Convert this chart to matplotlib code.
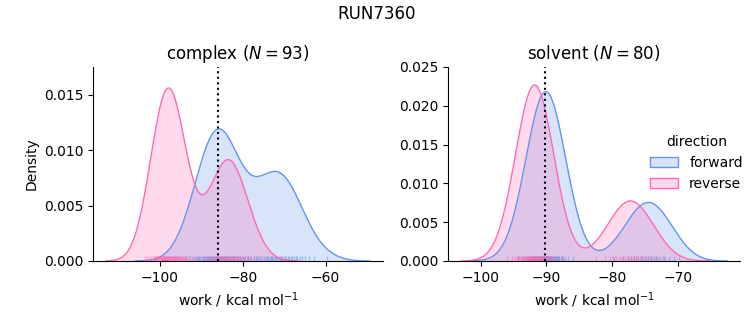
import numpy as np
import matplotlib.pyplot as plt
from matplotlib.colors import to_rgb
from matplotlib.patches import Patch

run_name = "RUN7360"
directions = ["forward", "reverse"]
colors = {"forward": "#6495ed", "reverse": "#ff69b4"}

complex_forward = [
    -95.6, -93.8, -92.9, -92.3, -91.7, -91.1, -90.8, -90.6, -90.2, -89.9,
    -89.5, -89.3, -89.0, -88.8, -88.7, -88.4, -88.1, -88.0, -87.8, -87.5,
    -87.4, -87.2, -86.9, -86.8, -86.5, -86.4, -86.2, -86.0, -85.9, -85.6,
    -85.3, -85.2, -85.0, -84.7, -84.6, -84.3, -84.2, -84.0, -83.7, -83.6,
    -83.3, -83.0, -82.8, -82.6, -82.2, -81.8, -81.5, -81.1, -80.7, -80.1,
    -79.5, -78.7, -76.8,
    -82.3, -80.0, -78.8, -78.1, -77.3, -76.6, -76.2, -75.9, -75.3, -74.8,
    -74.5, -74.1, -73.9, -73.5, -73.1, -72.9, -72.6, -72.2, -71.9, -71.7,
    -71.3, -71.0, -70.7, -70.5, -70.1, -69.7, -69.5, -69.2, -68.8, -68.4,
    -68.1, -67.6, -67.2, -66.9, -66.3, -65.7, -65.0, -64.1, -62.9, -59.7,
]
complex_reverse = [
    -103.6, -103.1, -102.6, -102.1, -101.7, -101.5, -101.2, -101.0, -100.8, -100.6,
    -100.4, -100.2, -100.0, -99.9, -99.7, -99.5, -99.4, -99.3, -99.2, -99.1,
    -98.9, -98.8, -98.7, -98.5, -98.4, -98.3, -98.2, -98.0,
    -97.9, -97.8, -97.7, -97.5, -97.3, -97.2, -97.1, -96.9, -96.8, -96.7,
    -96.6, -96.4, -96.3, -96.1, -96.0, -95.8, -95.6, -95.4, -95.2, -95.0,
    -94.8, -94.5, -94.3, -94.1, -93.9, -93.4, -92.8, -91.8,
    -91.2, -89.6, -88.7, -88.1, -87.6, -87.2, -86.7, -86.4, -86.1, -85.8,
    -85.5, -85.2, -84.9, -84.7, -84.5, -84.2, -84.0, -83.8, -83.5, -83.2,
    -83.0, -82.8, -82.5, -82.2, -82.1, -81.8, -81.5, -81.3, -80.9, -80.6,
    -80.3, -79.8, -79.4, -78.9, -78.3, -77.4, -75.8,
]
solvent_forward = [
    -94.3, -93.5, -93.1, -92.8, -92.6, -92.4, -92.2, -92.1, -91.9, -91.8,
    -91.7, -91.6, -91.4, -91.3, -91.2, -91.1, -91.0, -90.9, -90.9, -90.8,
    -90.7, -90.6, -90.5, -90.5, -90.4, -90.3, -90.2, -90.2, -90.1,
    -90.0, -89.9, -89.9, -89.8, -89.7, -89.6, -89.6, -89.5, -89.4, -89.3,
    -89.2, -89.1, -89.0, -88.9, -88.8, -88.7, -88.6, -88.5, -88.4, -88.2,
    -88.1, -88.0, -87.8, -87.6, -87.4, -87.1, -86.7, -85.9,
    -79.7, -78.4, -77.6, -77.1, -76.7, -76.3, -76.0, -75.6, -75.4, -75.1,
    -74.8, -74.5, -74.2, -74.0, -73.6, -73.4, -73.1, -72.7, -72.3, -71.9,
    -71.4, -70.6, -69.9,
]
solvent_reverse = [
    -96.0, -95.2, -94.8, -94.5, -94.3, -94.1, -93.9, -93.8, -93.6, -93.5,
    -93.4, -93.3, -93.1, -93.0, -92.9, -92.8, -92.7, -92.6, -92.6, -92.5,
    -92.4, -92.3, -92.2, -92.2, -92.1, -92.0, -91.9, -91.9, -91.8,
    -91.7, -91.6, -91.6, -91.5, -91.4, -91.3, -91.3, -91.2, -91.1, -91.0,
    -90.9, -90.8, -90.7, -90.6, -90.5, -90.4, -90.3, -90.2, -90.1, -89.9,
    -89.8, -89.7, -89.5, -89.3, -89.1, -88.8, -88.4, -87.6,
    -82.4, -81.1, -80.3, -79.8, -79.4, -79.0, -78.7, -78.3, -78.1, -77.8,
    -77.5, -77.2, -76.9, -76.7, -76.3, -76.1, -75.8, -75.4, -75.0, -74.6,
    -74.1, -73.3, -72.1,
]

complex_dg = -86.0
solvent_dg = -90.2

phases = {
    "complex": {"forward": complex_forward, "reverse": complex_reverse,
                "dg": complex_dg, "bw_adjust": 1.0, "ytop": 0.0175},
    "solvent": {"forward": solvent_forward, "reverse": solvent_reverse,
                "dg": solvent_dg, "bw_adjust": 0.8, "ytop": 0.025},
}

# all works share one normalisation, like seaborn common_norm
total = sum(len(p[d]) for p in phases.values() for d in directions)


def kde(values, bw_adjust):
    values = np.asarray(values)
    bw = values.std(ddof=1) * len(values) ** -0.2 * bw_adjust
    grid = np.linspace(values.min() - 3 * bw, values.max() + 3 * bw, 200)
    dens = np.exp(-0.5 * ((grid[:, None] - values[None, :]) / bw) ** 2).sum(axis=1)
    dens /= bw * np.sqrt(2 * np.pi) * total
    return grid, dens


fig = plt.figure(figsize=(7.53, 3.25), dpi=100)
ax1 = fig.add_axes([0.1235, 0.197, 0.385, 0.597])
ax2 = fig.add_axes([0.595, 0.197, 0.388, 0.597])

for ax, (phase, p) in zip([ax1, ax2], phases.items()):
    for d in directions:
        x, y = kde(p[d], p["bw_adjust"])
        ax.fill_between(x, y, color=colors[d], alpha=0.25, linewidth=0)
        ax.plot(x, y, color=colors[d], lw=1)
        ax.vlines(p[d], 0, 0.025, transform=ax.get_xaxis_transform(),
                  color=colors[d], lw=1, alpha=0.5)
    ax.axvline(p["dg"], color="k", ls=":", lw=1.5)
    ax.set_ylim(0, p["ytop"])
    ax.set_title(f"{phase} ($N={len(p['forward'])}$)", fontsize=12)
    ax.set_xlabel("work / kcal mol$^{-1}$")
    ax.spines["top"].set_visible(False)
    ax.spines["right"].set_visible(False)

ax1.set_ylabel("Density")
ax1.set_yticks([0, 0.005, 0.010, 0.015])
ax1.set_yticklabels(["0.000", "0.005", "0.010", "0.015"])
ax2.set_yticks([0, 0.005, 0.010, 0.015, 0.020, 0.025])
ax2.set_yticklabels(["0.000", "0.005", "0.010", "0.015", "0.020", "0.025"])

handles = [Patch(facecolor=(*to_rgb(colors[d]), 0.25), edgecolor=colors[d], lw=1)
           for d in directions]
fig.legend(handles, directions, title="direction", frameon=False,
           loc="center left", bbox_to_anchor=(0.847, 0.498), fontsize=10,
           title_fontsize=10)

fig.suptitle(run_name, fontsize=12, y=0.985)
fig.savefig("out.png", dpi=100)
